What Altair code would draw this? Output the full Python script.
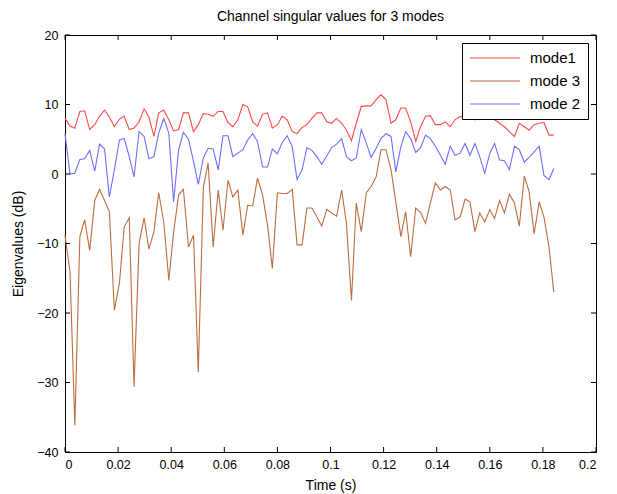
import altair as alt
import pandas as pd

# ---- data ----
time_s = [
    0.0000, 0.0019, 0.0037, 0.0056, 0.0074, 0.0093, 0.0112, 0.0130, 0.0149, 0.0167,
    0.0186, 0.0205, 0.0223, 0.0242, 0.0260, 0.0279, 0.0298, 0.0316, 0.0335, 0.0353,
    0.0372, 0.0391, 0.0409, 0.0428, 0.0446, 0.0465, 0.0484, 0.0502, 0.0521, 0.0539,
    0.0558, 0.0577, 0.0595, 0.0614, 0.0632, 0.0651, 0.0670, 0.0688, 0.0707, 0.0725,
    0.0744, 0.0763, 0.0781, 0.0800, 0.0818, 0.0837, 0.0856, 0.0874, 0.0893, 0.0911,
    0.0930, 0.0949, 0.0967, 0.0986, 0.1004, 0.1023, 0.1042, 0.1060, 0.1079, 0.1097,
    0.1116, 0.1135, 0.1153, 0.1172, 0.1190, 0.1209, 0.1228, 0.1246, 0.1265, 0.1283,
    0.1302, 0.1321, 0.1339, 0.1358, 0.1376, 0.1395, 0.1414, 0.1432, 0.1451, 0.1469,
    0.1488, 0.1507, 0.1525, 0.1544, 0.1562, 0.1581, 0.1600, 0.1618, 0.1637, 0.1655,
    0.1674, 0.1693, 0.1711, 0.1730, 0.1748, 0.1767, 0.1786, 0.1804, 0.1823, 0.1841,
]

mode1 = [
    8.0, 6.9, 6.6, 9.0, 9.1, 6.4, 7.1, 8.3, 9.2, 8.2,
    6.8, 7.9, 8.3, 6.4, 6.6, 7.5, 9.4, 8.2, 5.4, 8.8,
    9.2, 7.8, 6.2, 6.4, 8.8, 8.8, 6.1, 7.1, 8.7, 8.6,
    8.3, 9.0, 9.0, 7.4, 6.8, 7.8, 10.0, 9.7, 7.5, 6.9,
    8.6, 8.8, 6.6, 7.1, 8.3, 7.8, 6.1, 5.8, 6.7, 7.1,
    8.0, 8.8, 8.8, 7.5, 7.3, 8.0, 7.3, 6.3, 4.8, 7.3,
    9.7, 9.8, 9.8, 10.7, 11.4, 10.7, 7.3, 7.8, 9.5, 9.5,
    7.5, 4.7, 6.8, 8.3, 8.4, 7.1, 7.1, 7.5, 6.8, 7.8,
    8.3, 8.0, 8.8, 7.8, 8.5, 8.2, 8.0, 7.8, 7.3, 6.8,
    6.1, 5.4, 7.3, 6.8, 6.3, 7.1, 7.3, 7.4, 5.6, 5.6,
]

mode2 = [
    5.8, 0.0, 0.1, 2.1, 2.2, 3.4, 0.4, 4.3, 3.6, -3.3,
    0.6, 4.9, 5.1, 2.5, -0.4, 6.1, 5.4, 2.2, 2.5, 5.9,
    8.0, 5.9, -4.0, 3.5, 6.0, 5.0, 1.8, -1.5, 2.3, 3.7,
    3.6, 0.6, 5.5, 5.5, 2.5, 3.0, 3.5, 4.9, 5.8, 4.7,
    1.0, 1.0, 3.6, 2.9, 4.5, 5.5, 3.9, -0.8, 0.6, 3.8,
    3.4, 2.5, 1.4, 2.6, 3.8, 4.3, 5.1, 2.5, 1.9, 2.3,
    6.4, 4.4, 2.4, 3.7, 5.1, 5.8, 5.4, 0.3, 3.9, 6.1,
    5.1, 3.1, 3.8, 5.6, 5.1, 4.0, 2.7, 1.4, 4.0, 2.7,
    3.0, 4.4, 2.7, 4.4, 2.5, 0.1, 3.0, 4.4, 2.0, 1.9,
    0.6, 4.0, 3.5, 1.7, 2.4, 3.2, 4.0, -0.2, -0.8, 0.8,
]

mode3 = [
    -8.8, -14.1, -36.2, -9.0, -6.6, -11.0, -3.8, -2.2, -3.8, -5.4,
    -19.6, -15.7, -7.6, -6.3, -30.6, -10.0, -6.3, -10.8, -8.3, -2.7,
    -6.9, -15.3, -8.4, -3.0, -2.2, -10.5, -8.8, -28.5, -2.0, 1.6,
    -10.5, -2.3, -8.1, -0.9, -3.3, -2.3, -8.8, -4.5, -4.6, -0.6,
    -3.0, -7.4, -13.6, -2.7, -2.8, -2.8, -2.2, -10.2, -10.2, -4.9,
    -4.9, -6.2, -7.5, -5.1, -5.6, -6.1, -2.3, -7.1, -18.2, -4.2,
    -8.3, -2.7, -1.8, -0.4, 3.5, 3.5, 0.6, -4.0, -9.0, -5.4,
    -11.9, -4.9, -5.5, -7.1, -4.2, -1.3, -2.3, -1.8, -2.3, -6.6,
    -6.2, -3.6, -4.0, -8.3, -5.6, -6.9, -5.1, -6.4, -3.8, -5.6,
    -2.9, -4.2, -7.5, -0.3, -2.5, -8.6, -4.0, -6.2, -10.5, -17.0,
]

series_names = ["mode1", "mode 3", "mode 2"]
series_colors = ["#ff4a4a", "#bd6d3e", "#6e6eff"]

x_ticks = [0.0, 0.02, 0.04, 0.06, 0.08, 0.1, 0.12, 0.14, 0.16, 0.18, 0.2]
y_ticks = [-40, -30, -20, -10, 0, 10, 20]

# ---- tables ----
rows = []
for name, vals in (("mode1", mode1), ("mode 3", mode3), ("mode 2", mode2)):
    for t, v in zip(time_s, vals):
        rows.append({"t": t, "v": v, "mode": name})
df = pd.DataFrame(rows)
df_xt = pd.DataFrame({"t": x_ticks})
df_yt = pd.DataFrame({"v": y_ticks})

FONT = "Liberation Sans"

x_scale = alt.Scale(domain=[0, 0.2], nice=False, zero=False)
y_scale = alt.Scale(domain=[-40, 20], nice=False, zero=False)

lines = alt.Chart(df).mark_line(strokeWidth=1.1, interpolate="linear").encode(
    x=alt.X("t:Q", scale=x_scale,
            axis=alt.Axis(values=x_ticks, format="~g", title="Time (s)")),
    y=alt.Y("v:Q", scale=y_scale,
            axis=alt.Axis(values=y_ticks, title="Eigenvalues (dB)")),
    color=alt.Color("mode:N",
                    scale=alt.Scale(domain=series_names, range=series_colors),
                    sort=series_names,
                    legend=alt.Legend(title=None, orient="none", legendX=397, legendY=8,
                                      symbolType="stroke", symbolSize=2500,
                                      symbolStrokeWidth=1.2, clipHeight=16,
                                      rowPadding=7, labelFontSize=15, labelFont=FONT,
                                      labelOffset=9, padding=7,
                                      strokeColor="black", fillColor="white",
                                      labelColor="black")),
    detail="mode:N",
)

tick_len = 5
left_ticks = alt.Chart(df_yt).mark_rule(color="black", strokeWidth=1, x2Offset=tick_len).encode(
    x=alt.datum(0.0), x2=alt.datum(0.0), y="v:Q")
right_ticks = alt.Chart(df_yt).mark_rule(color="black", strokeWidth=1, x2Offset=-tick_len).encode(
    x=alt.datum(0.2), x2=alt.datum(0.2), y="v:Q")
bottom_ticks = alt.Chart(df_xt).mark_rule(color="black", strokeWidth=1, y2Offset=-tick_len).encode(
    x="t:Q", y=alt.datum(-40), y2=alt.datum(-40))
top_ticks = alt.Chart(df_xt).mark_rule(color="black", strokeWidth=1, y2Offset=tick_len).encode(
    x="t:Q", y=alt.datum(20), y2=alt.datum(20))

chart = alt.layer(lines, left_ticks, right_ticks, bottom_ticks, top_ticks).properties(
    width=531, height=417,
    autosize="none",
    padding={"left": 65, "top": 35, "right": 21, "bottom": 42},
    title=alt.TitleParams("Channel singular values for 3 modes", fontSize=14,
                          fontWeight="normal", font=FONT, anchor="middle",
                          offset=5, color="black"),
).configure_view(
    stroke="black", strokeWidth=1
).configure_axis(
    ticks=False, grid=False, domain=True, domainColor="black", domainWidth=1,
    labelFont=FONT, labelFontSize=12.5, labelColor="black",
    titleFont=FONT, titleFontSize=14, titleFontWeight="normal", titleColor="black",
).configure_axisX(
    labelPadding=6, titlePadding=8
).configure_axisY(
    labelPadding=7, titlePadding=11
)

chart.save("out.html", embed_options={"renderer": "svg", "actions": False})
